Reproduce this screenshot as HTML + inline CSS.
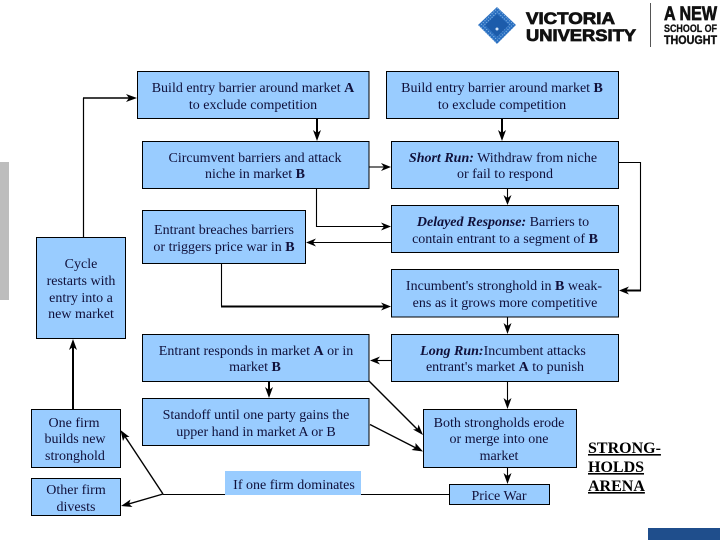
<!DOCTYPE html>
<html><head><meta charset="utf-8"><style>
html,body{margin:0;padding:0;background:#fff}
svg{display:block}
text{font-family:"Liberation Serif",serif;font-size:14px;fill:#10103a;text-anchor:middle}
.b{fill:#99ccff;stroke:#000;stroke-width:1}
.l{fill:none;stroke:#000;stroke-width:1.1}
.t{fill:none;stroke:#000;stroke-width:2}
.h{fill:#000}
.s{font-family:"Liberation Sans",sans-serif;font-weight:bold;fill:#111;text-anchor:start}
</style></head><body>
<svg width="720" height="540" viewBox="0 0 720 540" xmlns="http://www.w3.org/2000/svg">
<defs><pattern id="d" width="2.500" height="2.500" patternUnits="userSpaceOnUse" patternTransform="rotate(45 497 25)"><rect width="2.500" height="2.500" fill="#2a6fc0"/><rect width="1" height="1" fill="#8fbbe8"/></pattern></defs>
<rect x="0" y="162" width="9" height="138" fill="#bdbdbd"/>
<rect x="648" y="528" width="72" height="12" fill="#1f4e8c"/>

<!-- logo -->
<polygon points="497,7 516,25 497,44 478,25" fill="url(#d)"/>
<polygon points="497,14 509,25 497,37 485,25" fill="#1c5cab"/>
<circle cx="497" cy="29" r="1.500" fill="#cfe2f7"/>
<text class="s" x="526" y="24" style="font-size:17px" textLength="89" lengthAdjust="spacingAndGlyphs" stroke="#111" stroke-width=".8">VICTORIA</text>
<text class="s" x="526" y="41" style="font-size:17px" textLength="110" lengthAdjust="spacingAndGlyphs" stroke="#111" stroke-width=".8">UNIVERSITY</text>
<rect x="650" y="3" width="1" height="44" fill="#555"/>
<text class="s" x="664" y="20" style="font-size:19px" textLength="53" lengthAdjust="spacingAndGlyphs" stroke="#111" stroke-width=".7">A NEW</text>
<text class="s" x="664" y="32" style="font-size:11px" textLength="53" lengthAdjust="spacingAndGlyphs" stroke="#111" stroke-width=".3">SCHOOL OF</text>
<text class="s" x="664" y="44" style="font-size:12px" textLength="53" lengthAdjust="spacingAndGlyphs" stroke="#111" stroke-width=".4">THOUGHT</text>

<!-- connectors -->
<path class="t" style="stroke-width:1.2" d="M83.500 237V98"/><path class="t" style="stroke-width:1.6" d="M83 98H130"/>
<polygon class="h" points="137,98 126,94 129,98 126,102"/>
<path class="t" d="M317 119V135"/><polygon class="h" points="317,141 313,130 317,133 321,130"/>
<path class="t" d="M502 119V135"/><polygon class="h" points="502,141 498,130 502,133 506,130"/>
<path class="l" d="M369 167H385"/><polygon class="h" points="391,167 381,163 384,167 381,171"/>
<path class="l" d="M507.500 188V200"/><polygon class="h" points="507.500,205 503.500,195 507.500,198 511.500,195"/>
<path class="l" d="M316.500 188V226.500H385"/><polygon class="h" points="391,226.500 381,222.500 384,226.500 381,230.500"/>
<path class="l" d="M391 242.500H312"/><polygon class="h" points="306,242.500 316,238.500 313,242.500 316,246.500"/>
<path class="l" d="M221.500 263V306"/><path class="t" d="M221 306.500H386"/><polygon class="h" points="391,306.500 381,302.500 384,306.500 381,310.500"/>
<path class="l" d="M619 162.500H640.500V290"/><path class="t" d="M641 290.500H625"/><polygon class="h" points="619,290.500 629,286.500 626,290.500 629,294.500"/>
<path class="l" d="M507.500 317V329"/><polygon class="h" points="507.500,334 503.500,323 507.500,326 511.500,323"/>
<path class="l" d="M391 360.500H376"/><polygon class="h" points="370,360.500 380,356.500 377,360.500 380,364.500"/>
<path class="l" d="M507.500 381V403"/><polygon class="h" points="507.500,409 503.500,398 507.500,401 511.500,398"/>
<path class="l" d="M507.500 467V479"/><polygon class="h" points="507.500,484 503.500,473 507.500,476 511.500,473"/>
<path class="t" d="M269 381V392"/><polygon class="h" points="269,398 265,387 269,390 273,387"/>
<path class="t" d="M73 409V345"/><polygon class="h" points="73,339 69,350 73,347 77,350"/>
<path class="l" style="stroke-width:1.4" d="M369 381L419 431"/><polygon class="h" points="423,435 418.500,424.500 417.500,429 413,429.500"/>
<path class="l" style="stroke-width:1.4" d="M370 424.500L418 449"/><polygon class="h" points="423,451.500 415.500,443 415.500,447.500 411.500,450"/>
<path class="l" d="M163 494.500H225M361 494.500H449"/>
<path class="l" style="stroke-width:1.4" d="M163 494L124 435"/><polygon class="h" points="120.500,430 123,441 125,437 129.500,437"/>
<path class="l" style="stroke-width:1.4" d="M163 494L127 504.500"/><polygon class="h" points="121,506 132.500,507 129,504 130.500,499.500"/>

<!-- boxes -->
<rect class="b" x="137.500" y="71.500" width="231.500" height="47"/>
<rect class="b" x="386.500" y="71.500" width="232" height="47"/>
<rect class="b" x="142.500" y="141.500" width="226.500" height="47"/>
<rect class="b" x="391.500" y="141.500" width="227" height="47"/>
<rect class="b" x="142.500" y="210.500" width="163" height="53"/>
<rect class="b" x="391.500" y="205.500" width="227" height="47"/>
<rect class="b" x="36.500" y="237.500" width="89" height="101"/>
<rect class="b" x="391.500" y="269.500" width="227" height="47.500"/>
<rect class="b" x="142.500" y="334.500" width="226.500" height="47"/>
<rect class="b" x="391.500" y="334.500" width="227" height="47"/>
<rect class="b" x="142.500" y="398.500" width="226.500" height="47"/>
<rect class="b" x="31.500" y="409.500" width="89" height="58"/>
<rect class="b" x="423.500" y="409.500" width="153" height="58"/>
<rect class="b" x="31.500" y="478.500" width="89" height="37"/>
<rect x="225" y="471" width="136" height="24" fill="#99ccff"/>
<rect class="b" x="449.500" y="484.500" width="100" height="20"/>

<!-- labels -->
<text x="253" y="92">Build entry barrier around market <tspan font-weight="bold">A</tspan></text>
<text x="253" y="109">to exclude competition</text>
<text x="502" y="92">Build entry barrier around market <tspan font-weight="bold">B</tspan></text>
<text x="502" y="109">to exclude competition</text>
<text x="255" y="162">Circumvent barriers and attack</text>
<text x="255" y="178">niche in market <tspan font-weight="bold">B</tspan></text>
<text x="503" y="162"><tspan font-weight="bold" font-style="italic">Short Run:</tspan> Withdraw from niche</text>
<text x="505" y="178">or fail to respond</text>
<text x="224" y="234">Entrant breaches barriers</text>
<text x="224" y="251">or triggers price war in <tspan font-weight="bold">B</tspan></text>
<text x="503" y="226"><tspan font-weight="bold" font-style="italic">Delayed Response:</tspan> Barriers to</text>
<text x="505" y="243">contain entrant to a segment of <tspan font-weight="bold">B</tspan></text>
<text x="81" y="268">Cycle</text>
<text x="81" y="285">restarts with</text>
<text x="81" y="302">entry into a</text>
<text x="81" y="318">new market</text>
<text x="504" y="290">Incumbent's stronghold in <tspan font-weight="bold">B</tspan> weak-</text>
<text x="505" y="307">ens as it grows more competitive</text>
<text x="256" y="355">Entrant responds in market <tspan font-weight="bold">A</tspan> or in</text>
<text x="255" y="371">market <tspan font-weight="bold">B</tspan></text>
<text x="503" y="355"><tspan font-weight="bold" font-style="italic">Long Run:</tspan>Incumbent attacks</text>
<text x="505" y="371">entrant's market <tspan font-weight="bold">A</tspan> to punish</text>
<text x="256" y="419">Standoff until one party gains the</text>
<text x="256" y="436">upper hand in market A or B</text>
<text x="74" y="427">One firm</text>
<text x="75" y="443">builds new</text>
<text x="75" y="460">stronghold</text>
<text x="499" y="427">Both strongholds erode</text>
<text x="499" y="443">or merge into one</text>
<text x="499" y="460">market</text>
<text x="76" y="494">Other firm</text>
<text x="76" y="511">divests</text>
<text x="294" y="489">If one firm dominates</text>
<text x="499" y="500">Price War</text>
<text x="588" y="453" style="font-size:16px;text-anchor:start;fill:#000;font-weight:bold;text-decoration:underline">STRONG-</text>
<text x="588" y="472" style="font-size:16px;text-anchor:start;fill:#000;font-weight:bold;text-decoration:underline">HOLDS</text>
<text x="588" y="491" style="font-size:16px;text-anchor:start;fill:#000;font-weight:bold;text-decoration:underline">ARENA</text>
</svg>
</body></html>
